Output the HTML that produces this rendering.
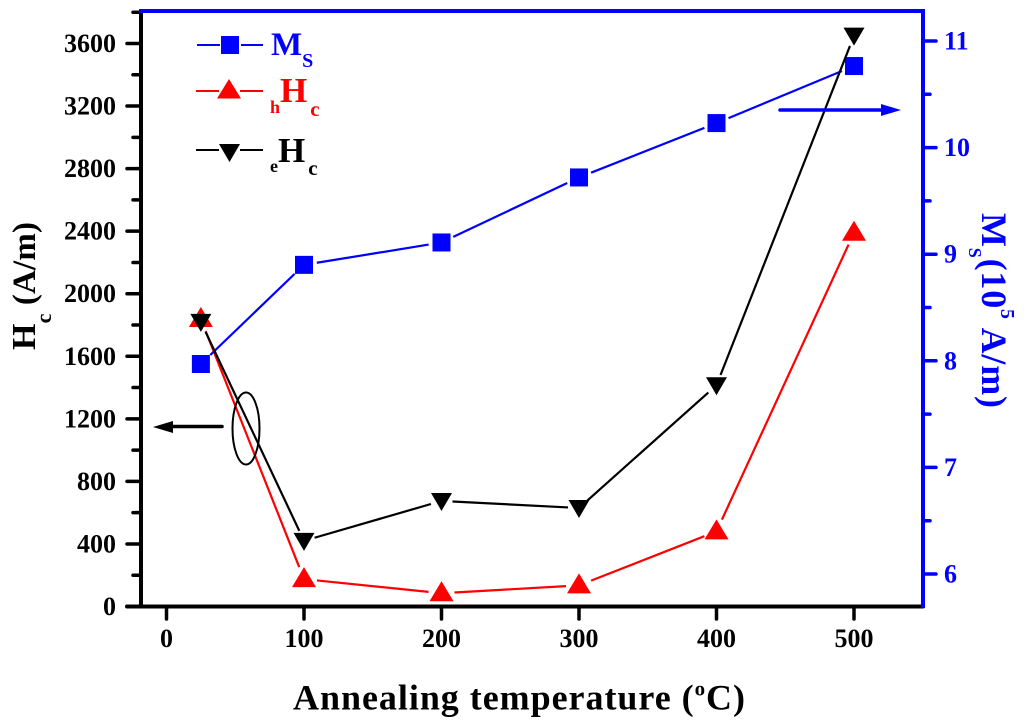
<!DOCTYPE html>
<html>
<head>
<meta charset="utf-8">
<style>
html,body{margin:0;padding:0;background:#fff}
svg{display:block}
text{font-family:"Liberation Serif",serif;font-weight:bold}
</style>
</head>
<body>
<svg id="chart" width="1024" height="725" viewBox="0 0 1024 725" xmlns="http://www.w3.org/2000/svg">
<rect width="1024" height="725" fill="#fff"/>
<g id="marks"></g>
<g id="axes"></g>

<text x="293" y="709.500" font-size="36" fill="#000" textLength="452" lengthAdjust="spacing">Annealing temperature (<tspan font-size="21" dy="-14">o</tspan><tspan dy="14">C)</tspan></text>
<text transform="translate(35,350) rotate(-90)" font-size="34" fill="#000" textLength="128" lengthAdjust="spacing">H<tspan font-size="22" dy="16">c</tspan><tspan dy="-16" font-size="33"> (A/m)</tspan></text>
<text transform="translate(982,213) rotate(90)" font-size="36" fill="#0000ff" textLength="195" lengthAdjust="spacing">M<tspan font-size="18" dy="13">S</tspan><tspan dy="-13">(10</tspan><tspan font-size="20" dy="-19">5</tspan><tspan dy="19"> A/m)</tspan></text>

<g>
<g>
<line x1="197" x2="220" y1="45" y2="45" stroke="#0000ff" stroke-width="2"/><line x1="241" x2="263" y1="45" y2="45" stroke="#0000ff" stroke-width="2"/>
<rect x="221" y="36" width="18" height="18" fill="#0000ff"/>
<text x="271" y="55" font-size="33" fill="#0000ff">M<tspan font-size="20" dy="12">S</tspan></text>
</g>
<g>
<line x1="196" x2="219" y1="91" y2="91" stroke="#ff0000" stroke-width="2"/><line x1="240" x2="263" y1="91" y2="91" stroke="#ff0000" stroke-width="2"/>
<polygon points="229,79 241,98.500 217,98.500" fill="#ff0000"/>
<text x="270" y="113" font-size="18" fill="#ff0000">h<tspan font-size="35" dy="-11">H</tspan><tspan font-size="21" dy="14" dx="3">c</tspan></text>
</g>
<g>
<line x1="196" x2="219" y1="150" y2="150" stroke="#000" stroke-width="2"/><line x1="240" x2="263" y1="150" y2="150" stroke="#000" stroke-width="2"/>
<polygon points="219,144 240,144 229.500,162" fill="#000"/>
<text x="270" y="172" font-size="18" fill="#000">e<tspan font-size="35" dy="-10">H</tspan><tspan font-size="21" dy="13" dx="3">c</tspan></text>
</g>
</g>

<g>
<ellipse cx="246" cy="428.500" rx="13.500" ry="36" fill="none" stroke="#000" stroke-width="2"/>
<line x1="222" x2="165" y1="426.500" y2="426.500" stroke="#000" stroke-width="3.500" stroke-linecap="round"/>
<polygon points="153,427 173,421 173,433" fill="#000"/>
</g>
<g>
<line x1="780" x2="885" y1="110" y2="110" stroke="#0000ff" stroke-width="3.500" stroke-linecap="round"/>
<polygon points="901,110 881,104 881,116" fill="#0000ff"/>
</g>

<script>
const categories = [25, 100, 200, 300, 400, 500];
const msValues = [7.97, 8.9, 9.11, 9.72, 10.23, 10.765];
const hhcValues = [1838, 175, 85, 135, 480, 2390];
const ehcValues = [1820, 420, 675, 630, 1415, 3650];
const xTicks = [0, 100, 200, 300, 400, 500];
const leftTicks = [0, 400, 800, 1200, 1600, 2000, 2400, 2800, 3200, 3600];
const leftMinorTicks = [200, 600, 1000, 1400, 1800, 2200, 2600, 3000, 3400, 3800];
const rightTicks = [6, 7, 8, 9, 10, 11];
const rightMinorTicks = [6.5, 7.5, 8.5, 9.5, 10.5];

const NS = 'http://www.w3.org/2000/svg';
function xScale(v) { return 166.5 + (v / 500) * 687.5; }
function yLeft(v) { return 606.5 - (v / 3600) * 563; }
function yRight(v) { return 574 - ((v - 6) / 5) * 533; }

const marksLayer = document.getElementById('marks');
const axesLayer = document.getElementById('axes');

function make(tag, attrs, parent) {
  const el = document.createElementNS(NS, tag);
  Object.keys(attrs).forEach(function (k) { el.setAttribute(k, attrs[k]); });
  parent.appendChild(el);
  return el;
}

function drawSeries(values, yFn, color, gap, width, shape, name) {
  const pts = values.map(function (v, i) { return [xScale(categories[i]), yFn(v)]; });
  for (let i = 0; i < pts.length - 1; i++) {
    const a = pts[i], b = pts[i + 1];
    const dx = b[0] - a[0], dy = b[1] - a[1];
    const len = Math.sqrt(dx * dx + dy * dy);
    if (len <= gap * 2) continue;
    const ux = dx / len, uy = dy / len;
    const seg = make('line', {
      x1: a[0] + ux * gap, y1: a[1] + uy * gap,
      x2: b[0] - ux * gap, y2: b[1] - uy * gap,
      stroke: color, 'stroke-width': width
    }, marksLayer);
    
    
  }
  pts.forEach(function (p) {
    let m;
    if (shape === 'square') {
      m = make('rect', { x: p[0] - 9, y: p[1] - 9, width: 18, height: 18, fill: color }, marksLayer);
    } else if (shape === 'up') {
      m = make('polygon', { points: p[0] + ',' + (p[1] - 12) + ' ' + (p[0] + 12) + ',' + (p[1] + 8) + ' ' + (p[0] - 12) + ',' + (p[1] + 8), fill: color }, marksLayer);
    } else {
      m = make('polygon', { points: (p[0] - 10.5) + ',' + (p[1] - 8) + ' ' + (p[0] + 10.5) + ',' + (p[1] - 8) + ' ' + p[0] + ',' + (p[1] + 10), fill: color }, marksLayer);
    }
    
    
  });
}

drawSeries(hhcValues, yLeft, '#ff0000', 13, 2.2, 'up', 'hhc-series');
drawSeries(msValues, yRight, '#0000ff', 13, 2.2, 'square', 'ms-series');
drawSeries(ehcValues, yLeft, '#000000', 11, 2.2, 'down', 'ehc-series');

function tickLine(x1, y1, x2, y2, color, name) {
  const t = make('line', { x1: x1, y1: y1, x2: x2, y2: y2, stroke: color, 'stroke-width': 3.5, 'stroke-linecap': 'round' }, axesLayer);
  
  
}

function tickText(x, y, str, anchor, color, name) {
  const t = make('text', { x: x, y: y, 'text-anchor': anchor, 'font-size': 26, fill: color }, axesLayer);
  t.textContent = str;
  
  
}

xTicks.forEach(function (v) {
  const x = xScale(v);
  tickLine(x, 607, x, 619, '#000', 'x-tick');
  tickText(x, 647, String(v), 'middle', '#000', 'x-tick-label');
});
leftTicks.forEach(function (v) {
  const y = yLeft(v);
  tickLine(127, y, 141, y, '#000', 'left-y-tick');
  tickText(116, y + 8.5, String(v), 'end', '#000', 'left-y-tick-label');
});
leftMinorTicks.forEach(function (v) {
  const y = yLeft(v);
  tickLine(133, y, 141, y, '#000', 'left-y-minor-tick');
});
rightTicks.forEach(function (v) {
  const y = yRight(v);
  tickLine(923, y, 936, y, '#0000ff', 'right-y-tick');
  tickText(944, y + 8.5, String(v), 'start', '#0000ff', 'right-y-tick-label');
});
rightMinorTicks.forEach(function (v) {
  const y = yRight(v);
  tickLine(923, y, 930, y, '#0000ff', 'right-y-minor-tick');
});

const leftSpine = make('line', { x1: 141, y1: 11, x2: 141, y2: 608, stroke: '#000', 'stroke-width': 4 }, axesLayer);


const bottomSpine = make('line', { x1: 127, y1: 606.5, x2: 923, y2: 606.5, stroke: '#000', 'stroke-width': 4, 'stroke-linecap': 'round' }, axesLayer);


const topSpine = make('line', { x1: 139, y1: 11, x2: 925, y2: 11, stroke: '#0000ff', 'stroke-width': 4 }, axesLayer);


const rightSpine = make('line', { x1: 923, y1: 11, x2: 923, y2: 608, stroke: '#0000ff', 'stroke-width': 4 }, axesLayer);


</script>
</svg>
</body>
</html>
